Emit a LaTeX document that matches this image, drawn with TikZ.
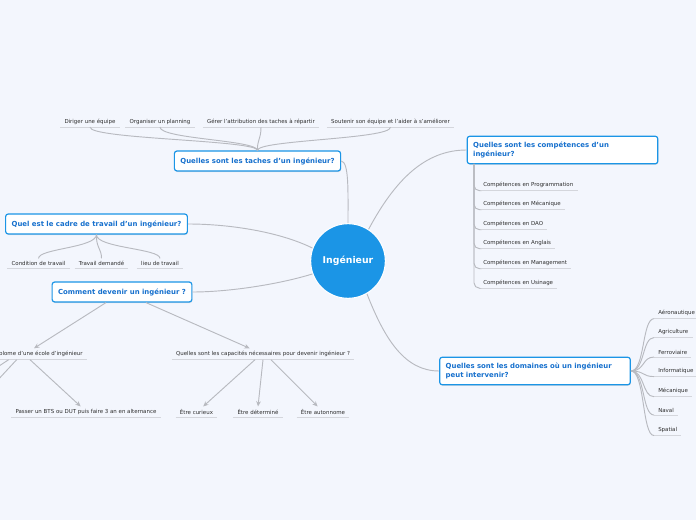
\documentclass[tikz,border=0pt]{standalone}
\usepackage{fontspec}
\setmainfont{DejaVu Sans}
\usetikzlibrary{arrows.meta,shadows,calc}

\definecolor{bgcol}{RGB}{243,246,253}
\definecolor{topicblue}{RGB}{27,149,230}
\definecolor{topictext}{RGB}{22,112,205}
\definecolor{linegray}{RGB}{184,186,192}
\definecolor{ulgray}{RGB}{212,214,220}
\definecolor{subtext}{RGB}{45,45,45}

\tikzset{
  central/.style={circle, fill=topicblue, draw=white, line width=0.8pt, minimum size=56pt, text=white, font=\bfseries\fontsize{7}{8}\selectfont},
  mainbox/.style={draw=topicblue, fill=white, rounded corners=2pt, line width=0.9pt, text=topictext, font=\bfseries\fontsize{5.2}{6.4}\selectfont, inner xsep=4.5pt, minimum height=15pt, drop shadow={opacity=0.2, shadow xshift=0.4pt, shadow yshift=-0.8pt}},
  subtopic/.style={font=\fontsize{4.1}{5}\selectfont, text=subtext, inner xsep=3pt, inner ysep=2pt},
  uline/.style={ulgray, line width=0.8pt},
  conn/.style={linegray, line width=0.7pt},
  arr/.style={conn, -{Stealth[length=4pt,width=3.5pt]}},
}

\begin{document}
\begin{tikzpicture}[x=0.75pt,y=0.75pt,yscale=-1,xscale=1]
  \fill[bgcol] (0,0) rectangle (696,520);
  \useasboundingbox (0,0) rectangle (696,520);

  % Central topic
  \node[central] (ing) at (348,261) {Ingénieur};

  % Main topics
  \node[mainbox] (tasks) at (257.5,161) {Quelles sont les taches d'un ingénieur?};
  \node[mainbox] (cadre) at (96.5,224) {Quel est le cadre de travail d'un ingénieur?};
  \node[mainbox] (comment) at (122,292) {Comment devenir un ingénieur ?};
  \node[mainbox, text width=134pt, align=left, inner ysep=4.5pt] (compet) at (562.5,150) {Quelles sont les compétences d'un\\ingénieur?};
  \node[mainbox, text width=134pt, align=left, inner ysep=4.5pt] (dom) at (535,371) {Quelles sont les domaines où un ingénieur\\peut intervenir?};

  % Central to main topics
  \draw[conn] (ing.north) .. controls (348,190) and (349,162) .. (tasks.east);
  \draw[conn] (ing.160) .. controls (280,232) and (230,224) .. (cadre.east);
  \draw[conn] (ing.200) .. controls (280,284) and (230,292) .. (comment.east);
  \draw[conn] (ing.57) .. controls (395,180) and (425,150) .. (compet.west);
  \draw[conn] (ing.300) .. controls (385,340) and (405,371) .. (dom.west);

  % Taches
  \node[subtopic] (t1) at (90,121.5) {Diriger une équipe};
  \node[subtopic] (t2) at (160,121.5) {Organiser un planning};
  \node[subtopic] (t3) at (261,121.5) {Gérer l'attribution des taches à répartir};
  \node[subtopic] (t4) at (390.5,121.5) {Soutenir son équipe et l'aider à s'améliorer};
  \foreach \t in {t1,t2,t3,t4}{
    \draw[uline] (\t.south west) -- (\t.south east);
    \draw[conn] (tasks.north) .. controls (257,140) and ($(\t.south)+(0,12)$) .. (\t.south);
  }

  % Cadre de travail
  \node[subtopic] (c1) at (38.5,263.5) {Condition de travail};
  \node[subtopic] (c2) at (101.5,263.5) {Travail demandé};
  \node[subtopic] (c3) at (160,263.5) {lieu de travail};
  \foreach \c in {c1,c2,c3}{
    \draw[uline] (\c.south west) -- (\c.south east);
    \draw[conn] (cadre.south) .. controls (96,248) and ($(\c.north)+(0,-10)$) .. (\c.north);
  }

  % Comment devenir
  \node[subtopic] (dip) at (38,354) {Diplome d'une école d'ingénieur};
  \node[subtopic] (cap) at (263,354) {Quelles sont les capacités nécessaires pour devenir ingénieur ?};
  \node[subtopic] (bts) at (86,412) {Passer un BTS ou DUT puis faire 3 an en alternance};
  \node[subtopic] (cur) at (196.5,412) {Être curieux};
  \node[subtopic] (det) at (258,412) {Être déterminé};
  \node[subtopic] (aut) at (323,412) {Être autonnome};
  \foreach \n in {dip,cap,bts,cur,det,aut}
    \draw[uline] (\n.south west) -- (\n.south east);
  \coordinate (offa) at (-30,410);
  \coordinate (offb) at (-45,395);
  \draw[arr] ([xshift=-12pt]comment.south) -- ([xshift=-3pt]dip.north);
  \draw[arr] ([xshift=18pt]comment.south) -- ([xshift=-10pt]cap.north);
  \draw[arr] ([xshift=-6pt]dip.south) -- ([xshift=-4pt]bts.north);
  \draw[arr] ([xshift=-16pt]dip.south) -- (offa);
  \draw[arr] ([xshift=-22pt]dip.south) -- (offb);
  \draw[arr] ([xshift=-6pt]cap.south) -- ([xshift=5pt]cur.north);
  \draw[arr] (cap.south) -- (det.north);
  \draw[arr] ([xshift=6pt]cap.south) -- ([xshift=-4pt]aut.north);

  % Competences
  \coordinate (cb) at (474,164);
  \foreach \y/\txt [count=\i] in {185/Programmation,204/Mécanique,224/DAO,243/Anglais,263/Management,282.5/Usinage}{
    \node[subtopic, anchor=west] (k\i) at (479,\y) {Compétences en \txt};
    \draw[uline] (k\i.south west) -- (k\i.south east);
    \draw[conn, rounded corners=4pt] (cb) |- (k\i.south west);
  }

  % Domaines
  \foreach \y/\txt [count=\i] in {313/Aéronautique,332/Agriculture,352/Ferroviaire,371/Informatique,391/Mécanique,410/Naval,430/Spatial}{
    \node[subtopic, anchor=west] (d\i) at (654,\y) {\txt};
    \draw[uline] (d\i.south west) -- (d\i.south east);
    \draw[conn] (dom.east) .. controls +(14,0) and +(-12,0) .. (d\i.south west);
  }
\end{tikzpicture}
\end{document}
